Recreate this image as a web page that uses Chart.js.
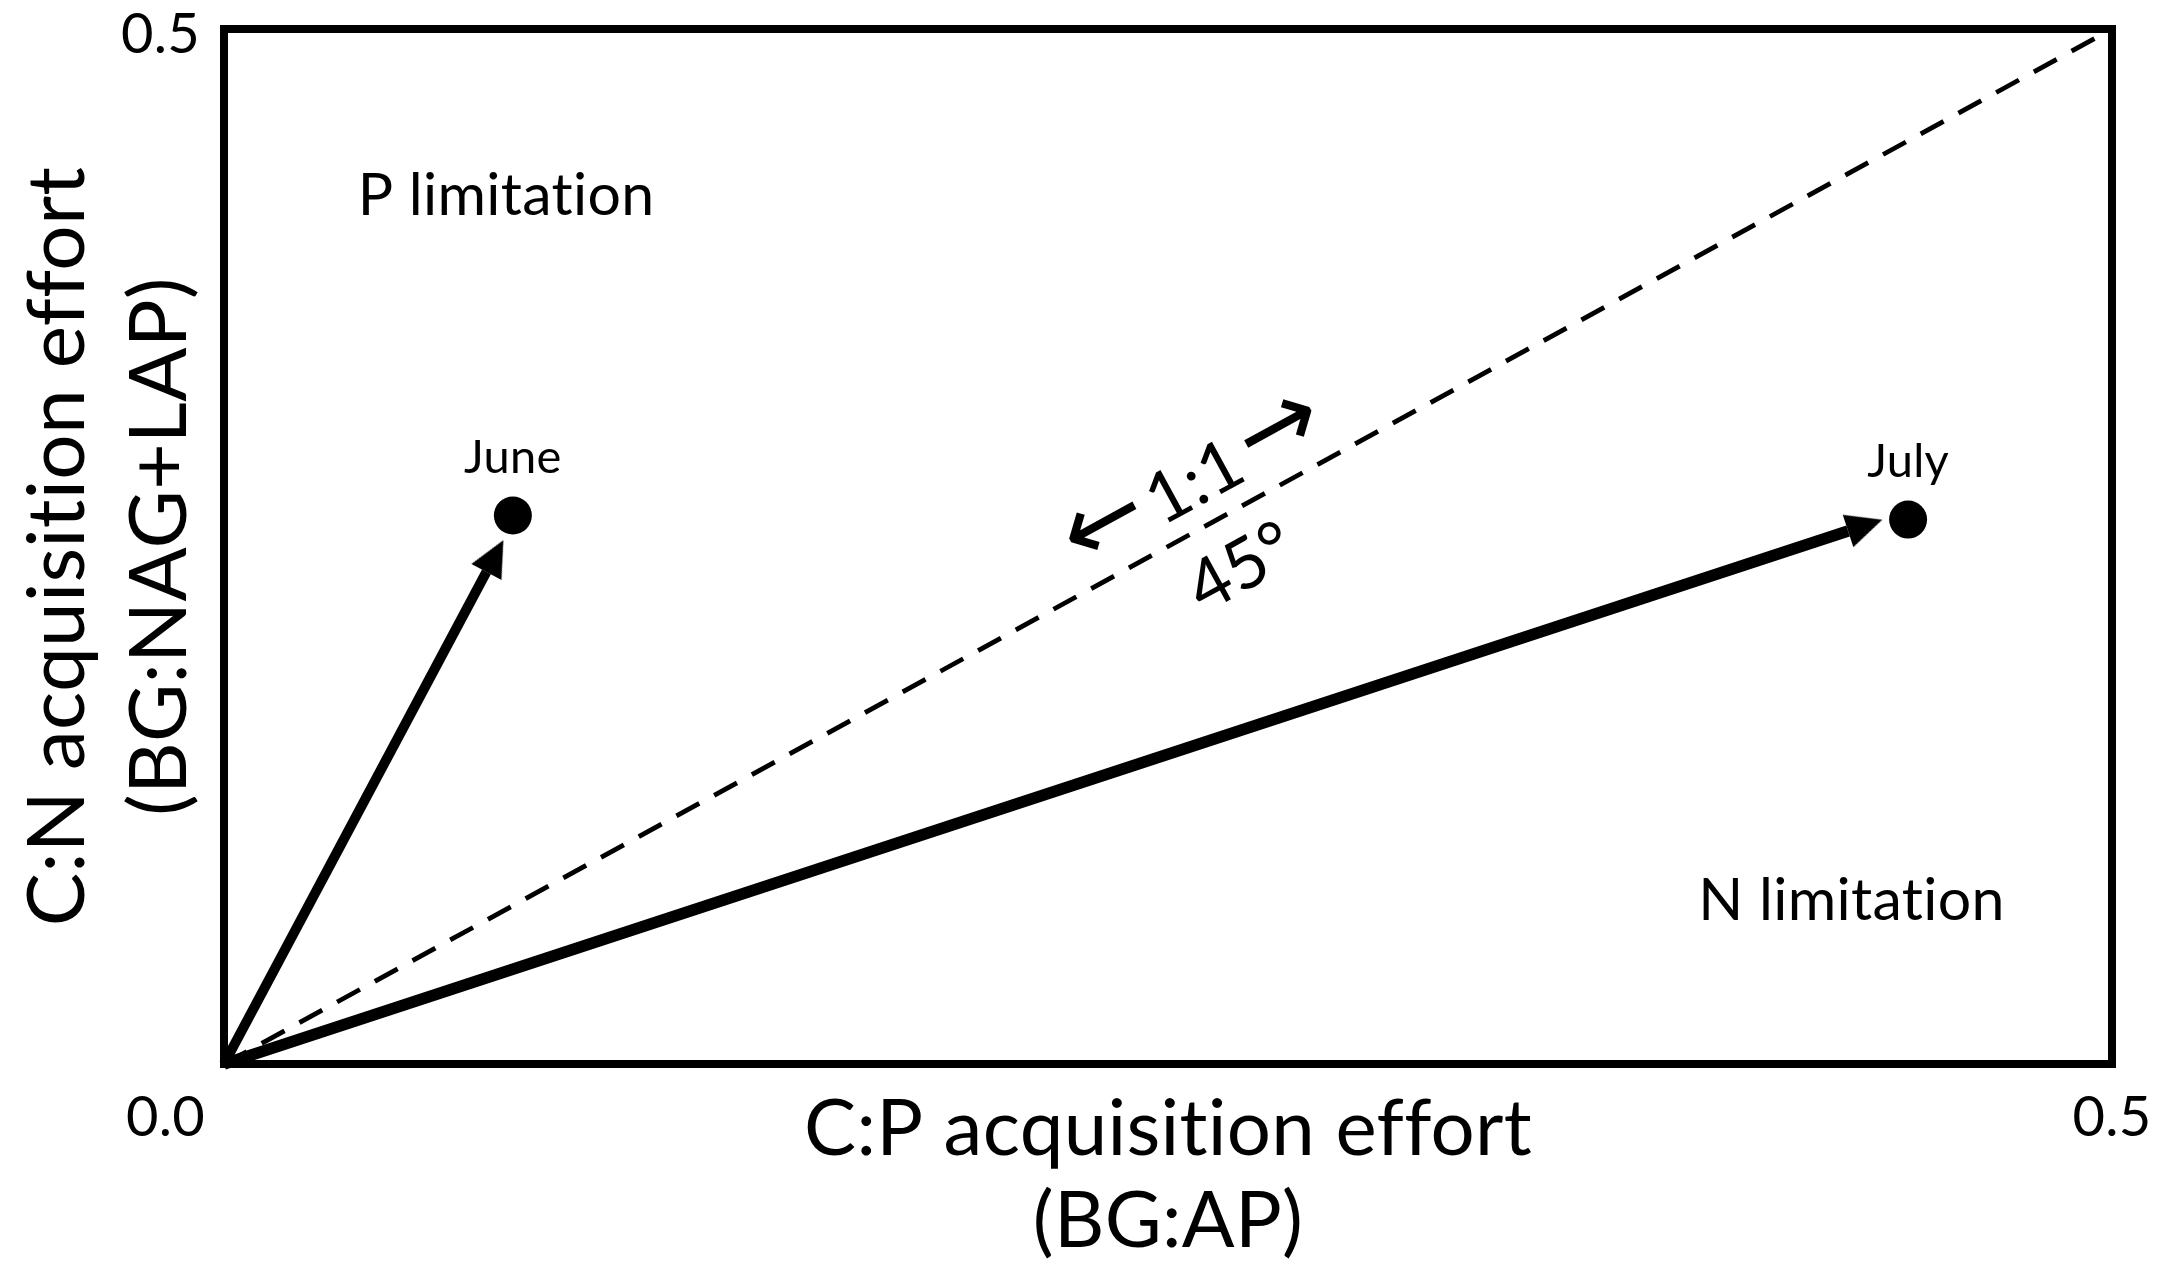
<!DOCTYPE html>
<html>
<head>
<meta charset="utf-8">
<script src="https://cdn.jsdelivr.net/npm/chart.js@4.4.1/dist/chart.umd.min.js"></script>
<style>
  html, body { margin: 0; padding: 0; background: #fff; overflow: hidden; }
  canvas { display: block; }
</style>
</head>
<body>
<canvas id="myChart" width="2181" height="1272"></canvas>
<script>
// values
var months = ['June', 'July'];
var cpEffort = [0.0765, 0.446];     // C:P acquisition effort (BG:AP)
var cnEffort = [0.265, 0.263];      // C:N acquisition effort (BG:NAG+LAP)
var arrowEndX = [0.0695, 0.4301];   // where the arrow shafts stop (head starts)
var arrowEndY = [0.2377, 0.2575];
var oneToOneX = [0, 0.5];
var oneToOneY = [0, 0.5];
var xTicks = [0, 0.5];
var xTickLabels = ['0.0        ', '0.5'];
var yTicks = [0, 0.5];
var yTickLabels = ['', '0.5'];
var regionNames = ['P limitation', 'N limitation'];
var regionX = [0.0747, 0.431];
var regionY = [0.4193, 0.0787];
var diagPos = 0.2626;

var FONT = 'Lato, "Open Sans", sans-serif';

const makeArrowHead = (len, halfW) => {
    const c = document.createElement('canvas');
    c.width = c.height = Math.ceil(len * 2);
    const g = c.getContext('2d');
    g.fillStyle = '#000';
    g.beginPath();
    g.moveTo(len, 0);
    g.lineTo(len + halfW, len);
    g.lineTo(len - halfW, len);
    g.closePath();
    g.fill();
    return c;
};
var arrowHead = makeArrowHead(36, 17);

// rotation (deg) so the head points along the shaft, in pixel space
const headRotation = (ctx) => {
    const x = ctx.chart.scales.x, y = ctx.chart.scales.y;
    const i = ctx.datasetIndex === 1 ? 0 : 1;
    const dx = x.getPixelForValue(arrowEndX[i]) - x.getPixelForValue(0);
    const dy = y.getPixelForValue(arrowEndY[i]) - y.getPixelForValue(0);
    return Math.atan2(dx, -dy) * 180 / Math.PI;
};

const arrowData = (i) => [{x: 0, y: 0}, {x: arrowEndX[i], y: arrowEndY[i]}];

// no "ti" ligatures in the canvas text
var noLigatures = {
    id: 'noLigatures',
    beforeDraw(chart) { chart.ctx.letterSpacing = '0.3px'; }
};

var labelPlugin = {
    id: 'labels',
    afterDatasetsDraw(chart) {
        const ctx = chart.ctx;
        const x = chart.scales.x, y = chart.scales.y;
        ctx.save();
        ctx.fillStyle = '#000';
        ctx.textAlign = 'center';
        ctx.textBaseline = 'middle';

        ctx.font = '47px ' + FONT;
        chart.getDatasetMeta(0).data.forEach((p, i) => {
            ctx.fillText(months[i], p.x, p.y - 58);
        });

        ctx.font = '59px ' + FONT;
        regionNames.forEach((t, i) => {
            ctx.fillText(t, x.getPixelForValue(regionX[i]), y.getPixelForValue(regionY[i]));
        });

        // 1:1 / 45° along the dashed line
        const ang = Math.atan2(y.getPixelForValue(oneToOneY[1]) - y.getPixelForValue(oneToOneY[0]),
                               x.getPixelForValue(oneToOneX[1]) - x.getPixelForValue(oneToOneX[0]));
        ctx.translate(x.getPixelForValue(diagPos), y.getPixelForValue(diagPos));
        ctx.rotate(ang);
        ctx.font = '70px ' + FONT;
        ctx.fillText('1:1', 0, -43);
        ctx.fillText('45°', 0, 54);
        ctx.font = '100px "DejaVu Sans"';
        ctx.fillText('←', -100, -47);
        ctx.fillText('→', 100, -47);
        ctx.restore();
    }
};

var frameAxis = (pos) => ({
    type: 'linear',
    position: pos,
    min: 0,
    max: 0.5,
    ticks: {display: false},
    grid: {display: false, drawTicks: false, lineWidth: 8},
    border: {display: true, color: '#000', width: 8},
    afterFit: (s) => { if (pos === 'top') s.height = 0; else s.width = 0; }
});

var ctx = document.getElementById('myChart').getContext('2d');
var myChart = new Chart(ctx, {
    type: 'scatter',
    data: {
        datasets: [{
            label: 'months',
            data: cpEffort.map((v, i) => ({x: v, y: cnEffort[i]})),
            pointRadius: 19,
            pointBorderWidth: 0,
            pointBackgroundColor: '#000',
            clip: false
        }, {
            type: 'line',
            data: arrowData(0),
            borderColor: '#000',
            borderWidth: 10,
            borderCapStyle: 'butt',
            pointRadius: (c) => c.dataIndex === 0 ? 0 : 10,
            pointStyle: (c) => c.dataIndex === 0 ? 'circle' : arrowHead,
            pointRotation: headRotation,
            clip: false
        }, {
            type: 'line',
            data: arrowData(1),
            borderColor: '#000',
            borderWidth: 11.5,
            borderCapStyle: 'butt',
            pointRadius: (c) => c.dataIndex === 0 ? 0 : 10,
            pointStyle: (c) => c.dataIndex === 0 ? 'circle' : arrowHead,
            pointRotation: headRotation,
            clip: false
        }, {
            type: 'line',
            data: oneToOneX.map((v, i) => ({x: v, y: oneToOneY[i]})),
            borderColor: '#000',
            borderWidth: 4.8,
            borderDash: [26, 17],
            pointRadius: 0
        }]
    },
    options: {
        responsive: false,
        animation: false,
        events: [],
        layout: {padding: {top: 29, right: 69, bottom: 0, left: 0}},
        plugins: {legend: {display: false}, tooltip: {enabled: false}},
        scales: {
            x: {
                type: 'linear',
                position: 'bottom',
                min: 0,
                max: 0.5,
                afterBuildTicks: (s) => { s.ticks = xTicks.map(v => ({value: v})); },
                afterFit: (s) => { s.height = 208; },
                ticks: {
                    color: '#000',
                    padding: 20,
                    maxRotation: 0,
                    font: {family: FONT, size: 56},
                    callback: (v) => xTickLabels[xTicks.indexOf(v)]
                },
                grid: {display: false, drawTicks: false, lineWidth: 8},
                border: {display: true, color: '#000', width: 8},
                title: {
                    display: true,
                    text: ['C:P acquisition effort', '(BG:AP)'],
                    color: '#000',
                    font: {family: FONT, size: 78, lineHeight: 1.18},
                    padding: {top: 0, bottom: 4}
                }
            },
            y: {
                type: 'linear',
                position: 'left',
                min: 0,
                max: 0.5,
                afterBuildTicks: (s) => { s.ticks = yTicks.map(v => ({value: v})); },
                afterFit: (s) => { s.width = 224; },
                ticks: {
                    color: '#000',
                    padding: 24,
                    labelOffset: 6,
                    font: {family: FONT, size: 56, lineHeight: 0.1},
                    callback: (v) => yTickLabels[yTicks.indexOf(v)]
                },
                grid: {display: false, drawTicks: false, lineWidth: 8},
                border: {display: true, color: '#000', width: 8},
                title: {
                    display: true,
                    text: ['C:N acquisition effort', '(BG:NAG+LAP)'],
                    color: '#000',
                    font: {family: FONT, size: 80, lineHeight: 1.28},
                    padding: {top: 7, bottom: 0}
                }
            },
            x2: frameAxis('top'),
            y2: frameAxis('right')
        }
    },
    plugins: [noLigatures, labelPlugin]
});
</script>
</body>
</html>
